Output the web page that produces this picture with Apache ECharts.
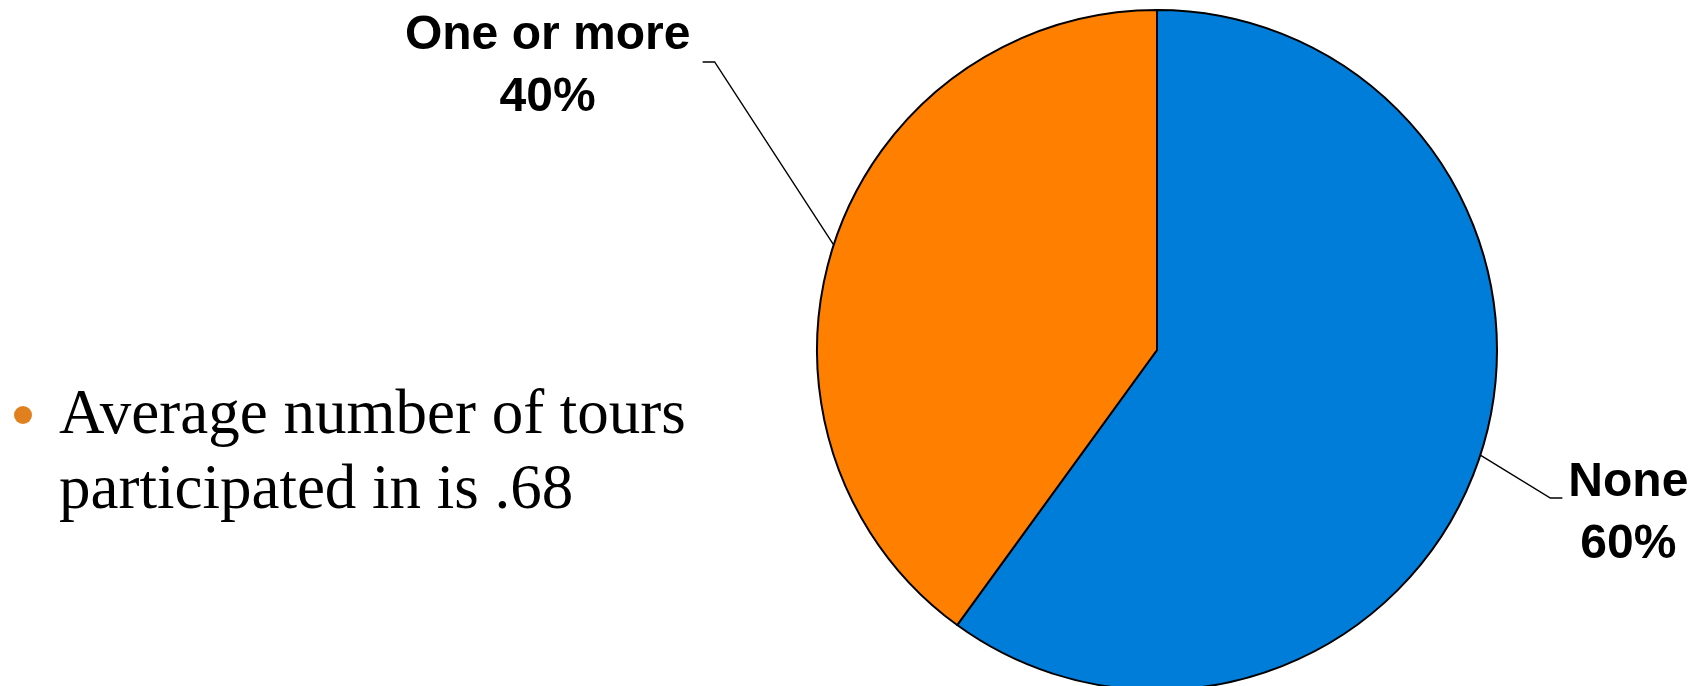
<!DOCTYPE html>
<html>
<head>
<meta charset="utf-8">
<title>Tours participated in</title>
<script src="https://cdn.jsdelivr.net/npm/echarts@6/dist/echarts.min.js"></script>
<style>
  html, body { margin: 0; padding: 0; background: #ffffff; }
  #chart { width: 1703px; height: 686px; }
</style>
</head>
<body>
<div id="chart"></div>
<script>
// Number of tours participated in
const categories = ['None', 'One or more'];
const shares = [60, 40];
const sliceColors = ['#007DD9', '#FF7F00'];
const noteLines = ['Average number of tours', 'participated in is .68'];

// Leader-line geometry per slice, as offsets from the slice's edge point:
// bend point, horizontal run, and where the label block sits relative to the line end.
const leader = [
  { bend: [70, 43], run: 12, labelDx: 66, labelDy: -46 },
  { bend: [-119, -183], run: -12, labelDx: -155, labelDy: -57 }
];

const chart = echarts.init(document.getElementById('chart'), null, { renderer: 'canvas' });

chart.setOption({
  animation: false,
  backgroundColor: '#ffffff',
  graphic: [
    {
      type: 'circle',
      shape: { cx: 23, cy: 415, r: 9 },
      style: { fill: '#E0801E' }
    },
    {
      type: 'text',
      left: 59,
      top: 379,
      style: {
        text: noteLines.join('\n'),
        font: '63px "Liberation Serif", "Times New Roman", serif',
        lineHeight: 75,
        fill: '#000000'
      }
    }
  ],
  series: [
    {
      type: 'pie',
      center: [1157, 350],
      radius: 340,
      startAngle: 90,
      clockwise: true,
      avoidLabelOverlap: false,
      percentPrecision: 0,
      itemStyle: { borderColor: '#000000', borderWidth: 2 },
      label: {
        show: true,
        position: 'outside',
        formatter: '{b}\n{d}%',
        fontFamily: '"Liberation Sans", Arial, sans-serif',
        fontWeight: 'bold',
        fontSize: 48,
        lineHeight: 62,
        color: '#000000',
        align: 'center'
      },
      labelLine: {
        show: true,
        lineStyle: { color: '#000000', width: 1.4 }
      },
      labelLayout: function (params) {
        const g = leader[params.dataIndex];
        const p0 = params.labelLinePoints[0];
        const p1 = [p0[0] + g.bend[0], p0[1] + g.bend[1]];
        const p2 = [p1[0] + g.run, p1[1]];
        return {
          x: p2[0] + g.labelDx,
          y: p2[1] + g.labelDy,
          align: 'center',
          verticalAlign: 'top',
          labelLinePoints: [p0, p1, p2]
        };
      },
      emphasis: { disabled: true },
      data: categories.map((name, i) => ({
        name: name,
        value: shares[i],
        itemStyle: { color: sliceColors[i] }
      }))
    }
  ]
});
</script>
</body>
</html>
